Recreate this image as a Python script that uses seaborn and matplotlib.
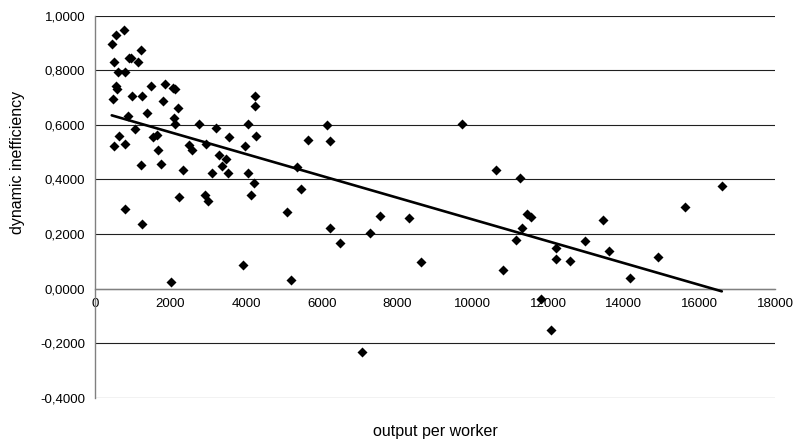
import matplotlib
matplotlib.use("Agg")
import matplotlib.pyplot as plt
import matplotlib.ticker as mticker
import numpy as np
import pandas as pd
import seaborn as sns

# output per worker (x) and dynamic inefficiency (y) for each economy
output_per_worker = [
    443, 557, 762, 1221, 512, 903, 956, 1150, 620, 805,
    557, 592, 1487, 1840, 2063, 2106, 470, 974, 1256, 1813,
    4248, 4248, 2186, 1389, 868, 2080, 2124, 2753, 4044, 1054,
    3204, 634, 1531, 1654, 3549, 4256, 5636, 512, 805, 1680,
    2477, 2575, 2947, 3273, 3477, 3963, 3353, 3522, 3097, 4044,
    4203, 4141, 5336, 5460, 5079, 1213, 1744, 2328, 2212, 2902,
    3000, 805, 1240, 2018, 3929, 5186, 6132, 6230, 9716, 10619,
    11238, 6221, 6495, 7274, 7549, 8318, 8620, 7060, 10813, 11132,
    11300, 11433, 11548, 12212, 12212, 11795, 12070, 16592, 15628, 13459,
    12973, 12575, 13600, 14894, 14158,
]
dynamic_inefficiency = [
    0.897, 0.928, 0.946, 0.874, 0.830, 0.845, 0.845, 0.830, 0.795, 0.792,
    0.742, 0.730, 0.742, 0.748, 0.736, 0.733, 0.696, 0.706, 0.706, 0.686,
    0.706, 0.670, 0.660, 0.642, 0.634, 0.624, 0.602, 0.602, 0.602, 0.585,
    0.588, 0.559, 0.555, 0.564, 0.555, 0.559, 0.546, 0.521, 0.531, 0.507,
    0.527, 0.507, 0.531, 0.489, 0.474, 0.521, 0.449, 0.423, 0.423, 0.423,
    0.387, 0.342, 0.444, 0.366, 0.281, 0.453, 0.458, 0.434, 0.337, 0.343,
    0.321, 0.290, 0.236, 0.023, 0.086, 0.033, 0.598, 0.540, 0.603, 0.433,
    0.405, 0.221, 0.168, 0.203, 0.265, 0.260, 0.096, -0.232, 0.068, 0.177,
    0.221, 0.275, 0.262, 0.149, 0.110, -0.039, -0.152, 0.376, 0.299, 0.250,
    0.173, 0.101, 0.136, 0.116, 0.039,
]

x_ticks = [0, 2000, 4000, 6000, 8000, 10000, 12000, 14000, 16000, 18000]
y_ticks = [-0.4, -0.2, 0.0, 0.2, 0.4, 0.6, 0.8, 1.0]

df = pd.DataFrame({"output per worker": output_per_worker,
                   "dynamic inefficiency": dynamic_inefficiency})

sns.set_theme(style="white")
plt.rcParams["font.family"] = ["Liberation Sans", "DejaVu Sans"]

fig = plt.figure(figsize=(7.96, 4.42), dpi=100)
ax = fig.add_axes([95 / 796, 1 - 397.7 / 442, 680 / 796, 382 / 442])

# horizontal gridlines
ax.set_axisbelow(True)
ax.yaxis.grid(True, color="#202020", linewidth=0.8)
ax.xaxis.grid(False)

sns.scatterplot(data=df, x="output per worker", y="dynamic inefficiency",
                marker="D", s=26, color="black", linewidth=0, ax=ax,
                zorder=3)
# linear trend line fitted to the points
sns.regplot(data=df, x="output per worker", y="dynamic inefficiency",
            scatter=False, ci=None, truncate=True, ax=ax,
            line_kws={"color": "black", "linewidth": 1.9, "zorder": 4})

ax.set_xlim(0, 18000)
ax.set_ylim(-0.4, 1.0)
ax.set_xticks(x_ticks)
ax.set_yticks(y_ticks)
ax.yaxis.set_major_formatter(
    mticker.FuncFormatter(lambda v, _: f"{v:.4f}".replace(".", ",")))
ax.xaxis.set_major_formatter(mticker.FuncFormatter(lambda v, _: f"{v:.0f}"))

for side in ("top", "right"):
    ax.spines[side].set_visible(False)
ax.spines["left"].set_color("#808080")
ax.spines["left"].set_linewidth(1.0)
ax.spines["bottom"].set_position(("data", 0))
ax.spines["bottom"].set_color("#808080")
ax.spines["bottom"].set_linewidth(1.0)

ax.tick_params(axis="both", which="major", direction="out", length=4,
               width=0.8, color="#808080", labelsize=9.5, labelcolor="black",
               pad=3)

ax.set_xlabel("output per worker", fontsize=11.5, color="black")
ax.set_ylabel("dynamic inefficiency", fontsize=11.5, color="black")
ax.xaxis.set_label_coords(0.5, -0.07)
ax.yaxis.set_label_coords(-0.103, 0.617)

fig.savefig("out.png", dpi=100, facecolor="white")
